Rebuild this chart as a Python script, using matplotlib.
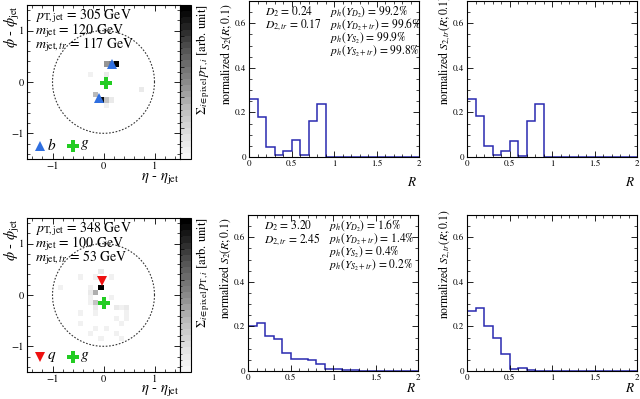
import numpy as np
import matplotlib
matplotlib.use('Agg')
import matplotlib.pyplot as plt
from matplotlib.colors import ListedColormap, Normalize
from matplotlib.ticker import MultipleLocator, FuncFormatter

plt.rcParams['font.family'] = ['STIXGeneral', 'DejaVu Sans']
plt.rcParams['mathtext.fontset'] = 'stix'

# ---- data ----
r_edges = np.round(np.arange(0, 2.01, 0.1), 2)

s2_top = [0.26, 0.18, 0.047, 0.010, 0.026, 0.076, 0.008, 0.160, 0.236, 0, 0, 0, 0, 0, 0, 0, 0, 0, 0, 0]
s2tr_top = [0.262, 0.182, 0.048, 0.010, 0.028, 0.073, 0.005, 0.160, 0.236, 0, 0, 0, 0, 0, 0, 0, 0, 0, 0, 0]
s2_bot = [0.203, 0.215, 0.158, 0.144, 0.079, 0.055, 0.055, 0.049, 0.033, 0.010, 0.010, 0.004, 0.003, 0.002, 0.001, 0, 0, 0, 0, 0]
s2tr_bot = [0.271, 0.284, 0.200, 0.148, 0.077, 0.009, 0.012, 0.004, 0, 0, 0, 0, 0, 0, 0, 0, 0, 0, 0, 0]

# jet image pixels (eta, phi, relative pT)
top_pix_eta = [0.05, 0.15, 0.25, 0.05, -0.25, 0.75, -0.05, -0.15, 0.15, 0.05, 0.05]
top_pix_phi = [0.35, 0.35, 0.35, 0.15, 0.15, -0.15, -0.35, -0.25, -0.35, -0.45, -0.35]
top_pix_w = [0.45, 0.55, 1.0, 0.08, 0.06, 0.08, 0.95, 0.35, 0.10, 0.05, 0.3]

bot_pix_eta = [-0.05, -0.15, -0.15, -0.05, 0.15, -0.25, -0.85, -0.25, -0.25, -0.25, -0.15,
               -0.15, 0.15, 0.25, 0.35, 0.45, 0.45, 0.45, 0.25, 0.35, -0.45, -0.45, -0.15,
               0.05, -0.25, -0.05, 0.25, -0.45, -0.15, 0.35]
bot_pix_phi = [0.15, 0.05, -0.15, 0.45, 0.35, 0.15, 0.15, 0.05, -0.05, -0.15, -0.25,
               -0.35, -0.05, -0.25, -0.25, -0.25, -0.35, -0.45, -0.45, -0.55, -0.35, -0.55, -0.65,
               -0.65, -0.75, -0.85, -0.75, 0.35, 0.35, -0.85]
bot_pix_w = [1.0, 0.38, 0.30, 0.08, 0.06, 0.06, 0.06, 0.08, 0.07, 0.07, 0.08,
             0.06, 0.06, 0.08, 0.07, 0.08, 0.06, 0.06, 0.07, 0.06, 0.06, 0.06, 0.07,
             0.06, 0.07, 0.06, 0.06, 0.05, 0.05, 0.05]

top_b_eta = [0.17, -0.08]
top_b_phi = [0.35, -0.31]
top_g = (0.04, -0.02)
bot_q = (-0.03, 0.27)
bot_g = (0.01, -0.15)

top_jet_text = [r'$p_{\mathrm{T,jet}}$ = 305 GeV', r'$m_{\mathrm{jet}}$ = 120 GeV', r'$m_{\mathrm{jet},tr}$ = 117 GeV']
bot_jet_text = [r'$p_{\mathrm{T,jet}}$ = 348 GeV', r'$m_{\mathrm{jet}}$ = 100 GeV', r'$m_{\mathrm{jet},tr}$ = 53 GeV']

top_d = [r'$D_2$ = 0.24', r'$D_{2,tr}$ = 0.17']
bot_d = [r'$D_2$ = 3.20', r'$D_{2,tr}$ = 2.45']
top_p = ['99.2%', '99.6%', '99.9%', '99.8%']
bot_p = ['1.6%', '1.4%', '0.4%', '0.2%']
p_names = [r'$p_h(Y_{D_2})$', r'$p_h(Y_{D_2+tr})$', r'$p_h(Y_{S_2})$', r'$p_h(Y_{S_2+tr})$']

W, H = 640.0, 399.0
fig = plt.figure(figsize=(6.4, 3.99), dpi=100)


def box(x0, y0, x1, y1):
    # pixel box (top-left origin) -> figure fraction rect
    return [x0 / W, 1 - y1 / H, (x1 - x0) / W, (y1 - y0) / H]


def fy(y):
    return 1 - y / H


def style_axes(ax, minor_x, minor_y, lsize):
    ax.tick_params(which='both', direction='in', top=True, right=True, labelsize=lsize, pad=2)
    ax.tick_params(which='major', length=4, width=0.6)
    ax.tick_params(which='minor', length=2, width=0.5)
    ax.xaxis.set_minor_locator(MultipleLocator(minor_x))
    ax.yaxis.set_minor_locator(MultipleLocator(minor_y))
    for s in ax.spines.values():
        s.set_linewidth(0.8)


gray_cmap = ListedColormap(plt.cm.Greys(np.linspace(0.08, 1.0, 25)))
edges = np.round(np.arange(-1.5, 1.51, 0.1), 2)


def jet_panel(top, pe, pp, pw, texts, markers):
    bottom = top + 154
    ax = fig.add_axes(box(27, top, 180, bottom))
    img, _, _ = np.histogram2d(pe, pp, bins=[edges, edges], weights=pw)
    img = np.ma.masked_where(img <= 0, img)
    mesh = ax.pcolormesh(edges, edges, img.T, cmap=gray_cmap, norm=Normalize(0, 1))
    t = np.linspace(0, 2 * np.pi, 200)
    ax.plot(np.cos(t), np.sin(t), ls=(0, (1.5, 1.5)), color='#333333', lw=0.8)
    for m in markers:
        ax.plot(m[0], m[1], ls='none', marker=m[2], color=m[3], ms=m[4], mew=0)
    ax.set_xlim(-1.5, 1.5)
    ax.set_ylim(-1.5, 1.5)
    ax.set_xticks([-1, 0, 1])
    ax.set_yticks([-1, 0, 1])
    style_axes(ax, 0.2, 0.2, 7.5)
    for i, s in enumerate(texts):
        ax.text(0.055, 1 - (11 + 14.5 * i) / 154, s, transform=ax.transAxes,
                fontsize=10, va='center', ha='left')
    # colorbar
    cax = fig.add_axes(box(180, top, 191, bottom))
    cb = fig.colorbar(mesh, cax=cax)
    cb.outline.set_linewidth(0.8)
    cax.yaxis.set_ticks_position('left')
    cax.tick_params(which='both', direction='in', labelleft=False, labelright=False)
    cax.tick_params(which='major', length=3, width=0.5)
    cax.set_yticks(np.linspace(0, 1, 6))
    cax.yaxis.set_minor_locator(MultipleLocator(0.04))
    cax.tick_params(which='minor', length=1.5, width=0.4)
    fig.text(206 / W, fy(top - 1), r'$\Sigma_{i\in\mathrm{pixel}}\,p_{\mathrm{T},i}$ [arb. unit]',
             rotation=90, rotation_mode='anchor', ha='right', va='baseline', fontsize=9)
    fig.text(16 / W, fy(top), r'$\phi$ - $\phi_{\mathrm{jet}}$', rotation=90,
             rotation_mode='anchor', ha='right', va='baseline', fontsize=10.5)
    fig.text(179 / W, fy(bottom + 19), r'$\eta$ - $\eta_{\mathrm{jet}}$', ha='right',
             va='center', fontsize=10.5)
    return ax


def hist_panel(x0, top, vals, ylab, rlab_y, dtxt=None, ptxt=None):
    bottom = top + 156
    ax = fig.add_axes(box(x0, top, x0 + 170, bottom))
    ax.stairs(vals, r_edges, color='#2a2ab0', lw=1.1, baseline=0)
    ax.set_xlim(0, 2)
    ax.set_ylim(0, 0.7)
    ax.set_xticks([0, 0.5, 1, 1.5, 2])
    ax.set_yticks([0, 0.2, 0.4, 0.6])
    fmt = FuncFormatter(lambda v, p: '%g' % v)
    ax.xaxis.set_major_formatter(fmt)
    ax.yaxis.set_major_formatter(fmt)
    style_axes(ax, 0.1, 0.05, 6.5)
    if dtxt is not None:
        for i, s in enumerate(dtxt):
            ax.text(0.094, 1 - (11 + 13.3 * i) / 156, s, transform=ax.transAxes,
                    fontsize=8.3, va='center', ha='left')
        for i, (n, v) in enumerate(zip(p_names, ptxt)):
            ax.text(0.476, 1 - (11 + 13.3 * i) / 156, n + ' = ' + v, transform=ax.transAxes,
                    fontsize=8.3, va='center', ha='left')
    fig.text((x0 - 19) / W, fy(top + 104), ylab, rotation=90, rotation_mode='anchor',
             ha='left', va='baseline', fontsize=8.4)
    fig.text((x0 + 168) / W, fy(rlab_y), r'$R$', ha='right', va='center', fontsize=9.5)
    return ax


lab_s2 = r'normalized $S_2(R;0.1)$'
lab_s2tr = r'normalized $S_{2,tr}(R;0.1)$'

# top row
jet_panel(5, top_pix_eta, top_pix_phi, top_pix_w, top_jet_text,
          [(top_b_eta, top_b_phi, '^', '#2f6fe0', 7),
           (top_g[0], top_g[1], 'P', '#22cc22', 8),
           (-1.25, -1.25, '^', '#2f6fe0', 7),
           (-0.6, -1.25, 'P', '#22cc22', 8)])
fig.text(52 / W, fy(145), r'$b$', fontsize=11, ha='center', va='center')
fig.text(85 / W, fy(145), r'$g$', fontsize=11, ha='center', va='center')
hist_panel(249, 1, s2_top, lab_s2, 183, top_d, top_p)
hist_panel(467, 1, s2tr_top, lab_s2tr, 183)

# bottom row
jet_panel(218, bot_pix_eta, bot_pix_phi, bot_pix_w, bot_jet_text,
          [(bot_q[0], bot_q[1], 'v', '#ee1111', 7),
           (bot_g[0], bot_g[1], 'P', '#22cc22', 8),
           (-1.25, -1.2, 'v', '#ee1111', 7),
           (-0.6, -1.2, 'P', '#22cc22', 8)])
fig.text(52 / W, fy(357), r'$q$', fontsize=11, ha='center', va='center')
fig.text(85 / W, fy(357), r'$g$', fontsize=11, ha='center', va='center')
hist_panel(248, 215, s2_bot, lab_s2, 388, bot_d, bot_p)
hist_panel(467, 215, s2tr_bot, lab_s2tr, 388)

fig.savefig('out.png', dpi=100)
